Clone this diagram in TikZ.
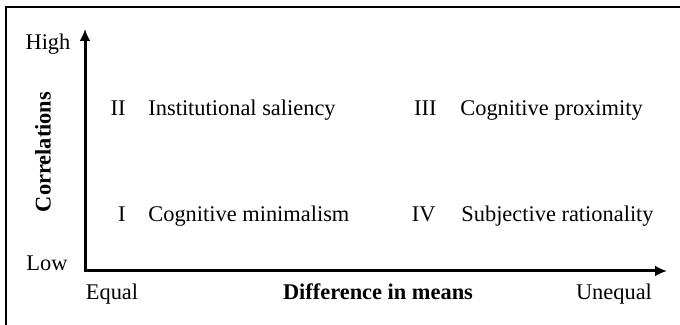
\documentclass[tikz,border=0pt]{standalone}
\usepackage{fontspec}
\setmainfont{Liberation Serif}
\usetikzlibrary{arrows.meta}
\begin{document}
\begin{tikzpicture}[x=0.5pt,y=0.5pt,
    lbl/.style={font=\fontsize{11.2}{13}\selectfont, inner sep=0pt},
    axlbl/.style={inner sep=0pt, font=\fontsize{11.2}{13}\selectfont\bfseries},
    axis/.style={line width=1.5pt, {Latex[length=6pt,width=5.5pt]}-{Latex[length=6pt,width=5.5pt]}}]
    \useasboundingbox (0,0) rectangle (680,325);
    \draw[line width=1pt] (6,0) -- (6,317.5) -- (680,317.5);
    \coordinate (ytop) at (85,296);
    \coordinate (orig) at (85,54);
    \coordinate (xend) at (667,54);
    \draw[axis] (ytop) -- (orig) -- (xend);
    \node[lbl, anchor=base] (high) at (48,275) {High};
    \node[lbl, anchor=base] (low) at (47,54) {Low};
    \node[lbl, anchor=base] (equal) at (112,25) {Equal};
    \node[lbl, anchor=base] (unequal) at (614,25) {Unequal};
    \node[axlbl, anchor=base] (xlabel) at (378,25) {Difference in means};
    \node[axlbl, rotate=90] (ylabel) at (43,173) {Correlations};
    \node[lbl, anchor=base east] (q2num) at (126,209) {II};
    \node[lbl, anchor=base west] (q2) at (148,209) {Institutional saliency};
    \node[lbl, anchor=base east] (q1num) at (126,103) {I};
    \node[lbl, anchor=base west] (q1) at (148,103) {Cognitive minimalism};
    \node[lbl, anchor=base east] (q3num) at (437,209) {III};
    \node[lbl, anchor=base west] (q3) at (460,209) {Cognitive proximity};
    \node[lbl, anchor=base east] (q4num) at (436,103) {IV};
    \node[lbl, anchor=base west] (q4) at (461,103) {Subjective rationality};
\end{tikzpicture}
\end{document}
